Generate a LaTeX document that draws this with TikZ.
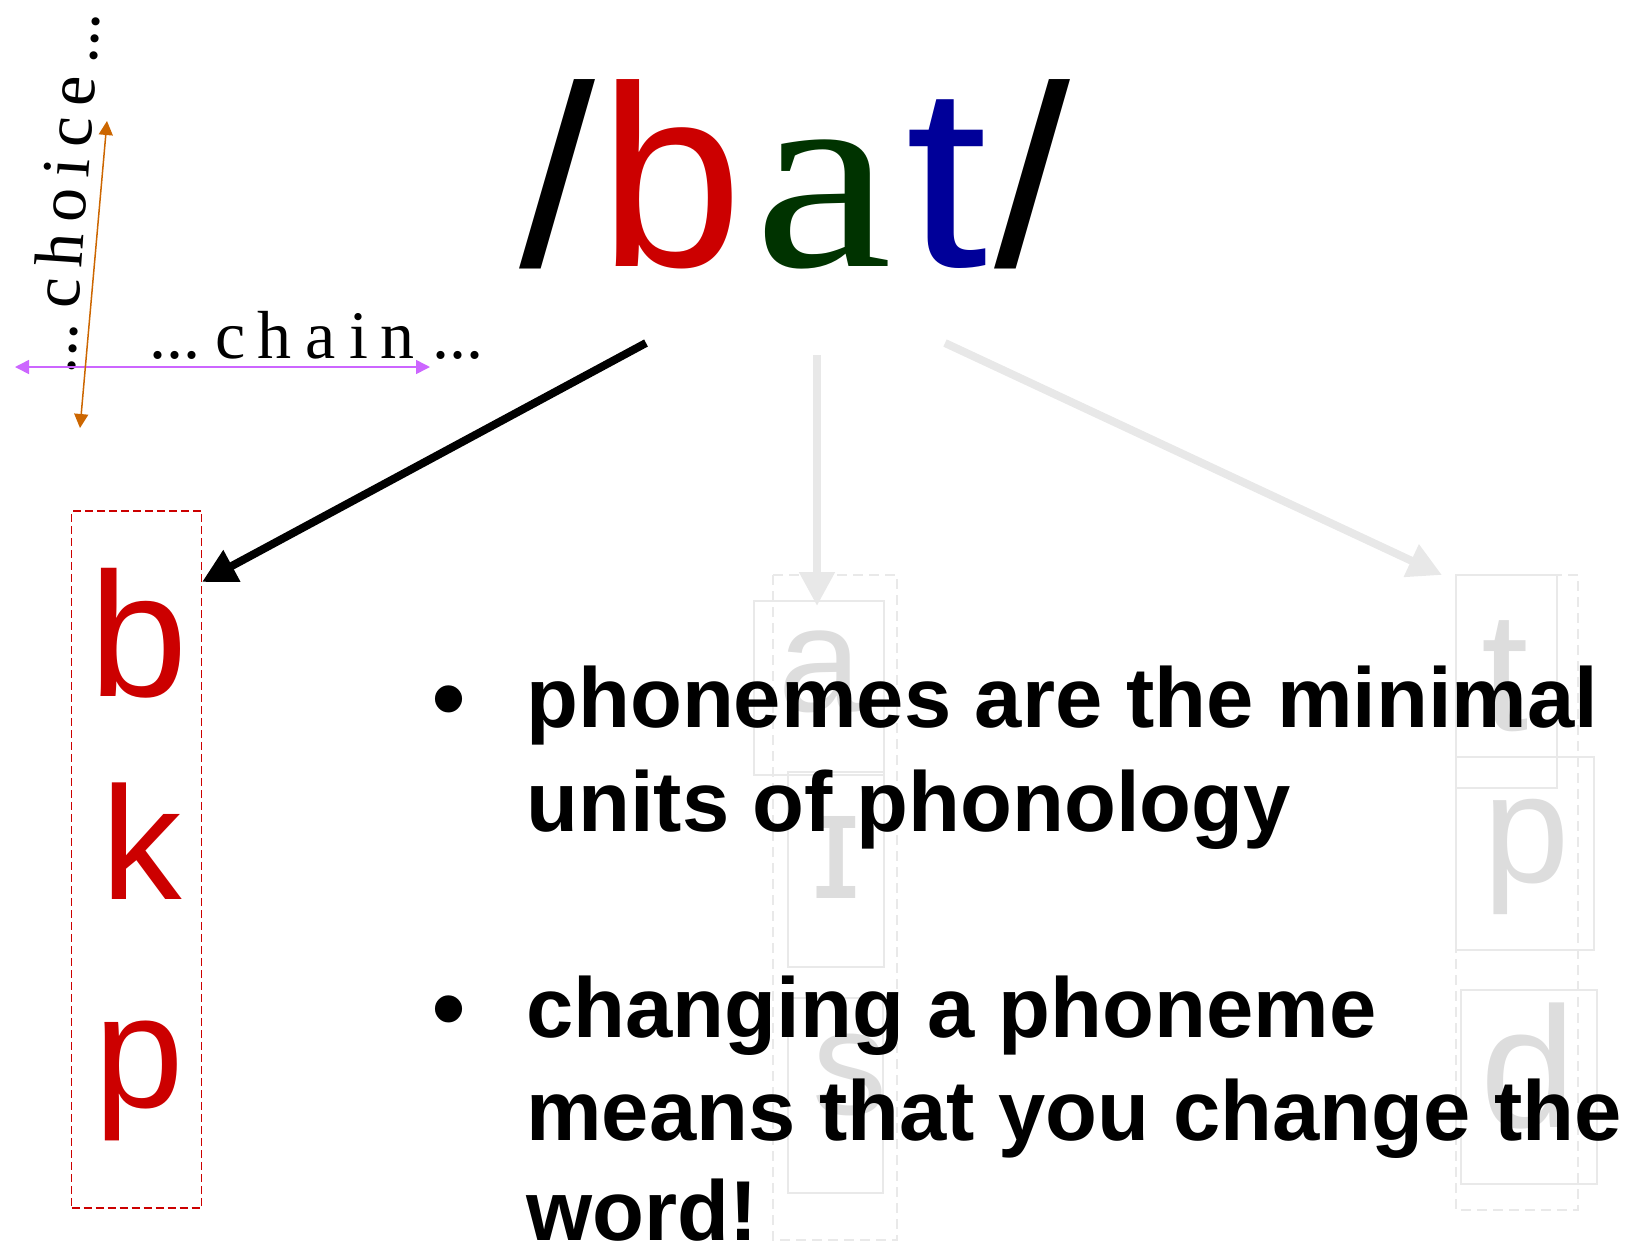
\documentclass[tikz,border=0pt]{standalone}
\usepackage{fontspec}
\setmainfont{Liberation Sans}
\newfontfamily\timesfont{Liberation Serif}
\newfontfamily\dejavufont{DejaVu Sans}
\usetikzlibrary{arrows.meta}
\definecolor{bred}{RGB}{204,0,0}
\definecolor{bgreen}{RGB}{0,51,0}
\definecolor{bblue}{RGB}{0,0,153}
\definecolor{fadedtext}{RGB}{221,221,221}
\definecolor{fadedline}{RGB}{233,233,233}
\definecolor{fadedarrow}{RGB}{232,232,232}
\definecolor{chainviolet}{RGB}{204,102,255}
\definecolor{choiceorange}{RGB}{204,102,0}
\newcommand{\lsz}[1]{\fontsize{#1}{#1}\selectfont}
\tikzset{
  bigletter/.style={anchor=base, inner sep=0pt},
  redletter/.style={bigletter, text=bred},
  greyletter/.style={bigletter, text=fadedtext},
  greybox/.style={draw=fadedline, line width=1.6pt},
  greydash/.style={draw=fadedline, line width=1.6pt, dash pattern=on 10pt off 6pt},
  reddash/.style={draw=bred, line width=1.6pt, dash pattern=on 8pt off 4pt},
  bodyline/.style={anchor=base west, inner sep=0pt, font=\fontsize{85}{104}\bfseries\selectfont},
  bulletmark/.style={anchor=base west, inner sep=0pt, font=\fontsize{100}{104}\selectfont},
  serifword/.style={inner sep=0pt, font=\fontsize{68}{80}\timesfont\selectfont},
  mainarrow/.style={line width=8pt, -{Triangle[length=34pt,width=34pt]}},
}
\begin{document}
\begin{tikzpicture}[x=1pt,y=-1pt]
\useasboundingbox (0,0) rectangle (1629,1243);

% faded middle column
\node[greyletter, font=\lsz{150}] (fa) at (820,711) {a};
\node[greyletter, font=\fontsize{150}{150}\dejavufont\selectfont] (fi) at (836,898) {ɪ};
\node[greyletter, font=\lsz{150}] (fs) at (850,1114) {s};
\draw[greybox] (754,601) rectangle (884,775);
\draw[greybox] (788,772) rectangle (884,967);
\draw[greybox] (788,998) rectangle (883,1193);
\draw[greydash] (773,575) rectangle (897,1240);

% faded right column
\node[greyletter, font=\lsz{170}] (ft) at (1505,730) {t};
\node[greyletter, font=\lsz{155}] (fp) at (1527,882) {p};
\node[greyletter, font=\lsz{172}] (fd) at (1528,1127) {d};
\draw[greybox] (1456,575) rectangle (1557,788);
\draw[greybox] (1456,757) rectangle (1594,950);
\draw[greybox] (1461,990) rectangle (1597,1184);
\draw[greydash] (1456,575) rectangle (1578,1210);

% left red column
\node[redletter, font=\lsz{177}] (rb) at (139,696) {b};
\node[redletter, font=\lsz{161}] (rk) at (142,899) {k};
\node[redletter, font=\lsz{161}] (rp) at (139,1107) {p};
\node[reddash, draw, inner sep=0pt, minimum width=130pt, minimum height=697pt] (redbox) at (136.6,859.5) {};

% /bat/
\node[anchor=base west, inner sep=0pt, font=\lsz{258}] (bat) at (519,266)
  {\scalebox{1.06}[1]{/}\kern4pt\textcolor{bred}{b}\kern12pt\textcolor{bgreen}{\scalebox{1.15}[1]{\fontsize{270}{270}\timesfont\selectfont a}}\kern13.5pt\textcolor{bblue}{\scalebox{1.15}[1]{t}}\kern6pt\scalebox{1.06}[1]{/}};

% arrows from /bat/
\coordinate (startb) at (646,343);
\coordinate (tipb) at (202,582);
\coordinate (starta) at (817,355);
\coordinate (tipa) at (817,606);
\coordinate (startt) at (945,343);
\coordinate (tipt) at (1442,575);
\draw[mainarrow, draw=black] (startb) -- (tipb);
\draw[mainarrow, draw=fadedarrow, color=fadedarrow] (starta) -- (tipa);
\draw[mainarrow, draw=fadedarrow, color=fadedarrow] (startt) -- (tipt);

% bullets
\node[bulletmark] (bul1) at (431,732) {•};
\node[bodyline] (l1) at (526,727) {phonemes are the minimal};
\node[bodyline] (l2) at (526,831) {units of phonology};
\node[bulletmark] (bul2) at (431,1042) {•};
\node[bodyline] (l3) at (526,1037) {changing a phoneme};
\node[bodyline] (l4) at (526,1140) {means that you change the};
\node[bodyline] (l5) at (526,1240) {word!};

% chain / choice
\node[serifword, anchor=base west] (chain) at (149,358)
  {...\hspace{15pt}c\hspace{12.5pt}h\hspace{13.5pt}a\hspace{13.5pt}i\hspace{13pt}n\hspace{18pt}...};
\node[serifword, anchor=base, rotate=86] (choice) at (87,194)
  {...\hspace{14pt}c\hspace{11pt}h\hspace{11pt}o\hspace{11pt}i\hspace{11pt}c\hspace{11pt}e\hspace{13pt}...};
\coordinate (chl) at (15,367);
\coordinate (chr) at (430,367);
\coordinate (cob) at (80,428);
\coordinate (cot) at (107,121);
\draw[chainviolet, line width=1.5pt, {Triangle[length=14pt,width=14pt]}-{Triangle[length=14pt,width=14pt]}] (chl) -- (chr);
\draw[choiceorange, line width=1.5pt, {Triangle[length=14pt,width=14pt]}-{Triangle[length=14pt,width=14pt]}] (cob) -- (cot);
\end{tikzpicture}
\end{document}
